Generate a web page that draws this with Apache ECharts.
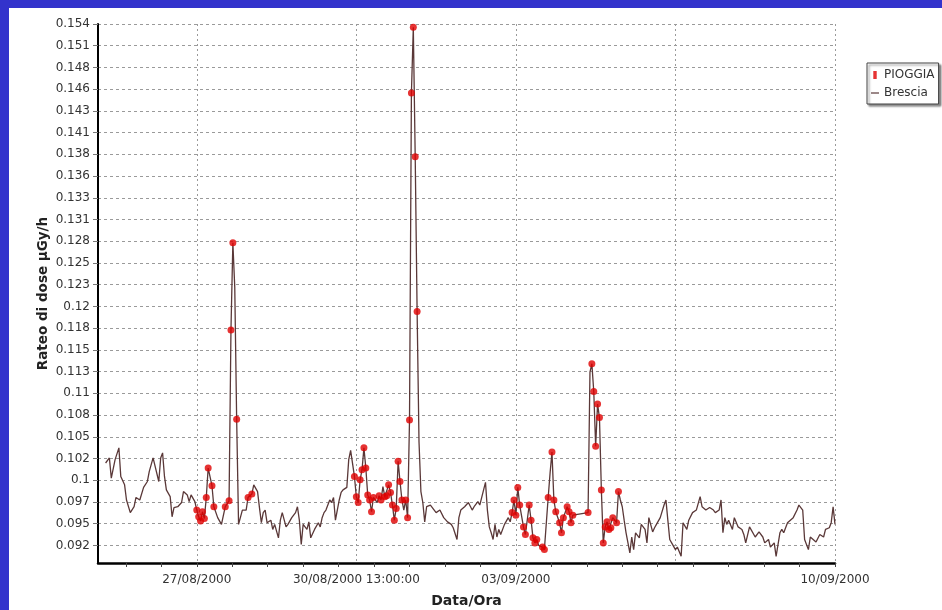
<!DOCTYPE html>
<html><head><meta charset="utf-8">
<script src="https://cdn.jsdelivr.net/npm/echarts@6/dist/echarts.min.js"></script>
<style>html,body{margin:0;padding:0;background:#fff;}#c{width:942px;height:610px;}</style>
</head><body><div id="c"></div>
<script>
// hours relative to 27/08/2000 00:00
const hours = [-48,-46,-45,-43,-41,-40,-38,-37,-35,-33,-32,-30,-28,-26,-25,-23,-22,-20,-19,-18,-17,-16,-14,-13,-12,-10,-8,-7,-5,-4,-3,-1,
0,1,2,3,4,5,6,8,9,11,13,15,17,18,19,20,21,22,24,26,27,29,30,32,33,34,35,36,37,39,40,41,43,44,45,47,48,50,52,53,54,55,56,58,59,60,62,64,65,66,67,68,70,71,72,73,75,76,77,79,80,81,83,84,
85,86,87,88,89,90,91,92,93,95,96,97,98,99,100,101,102,103,104,105,106,107,108,109,110,111,112,113,114,115,116,117,118,119,120,121,123,125,126,128,130,132,134,135,137,138,139,141,143,145,146,148,149,151,152,153,154,155,156,157,158,159,160,162,164,165,166,167,
168,169,170,172,173,175,176,177,178,179,180,182,183,185,186,187,188,189,191,192,193,195,196,197,198,206,207,208,209,210,211,212,213,214,215,216,217,218,219,221,222,223,224,225,226,228,229,230,231,233,234,236,237,238,240,241,242,244,246,247,248,249,250,252,253,255,256,258,259,261,263,265,266,268,
270,272,273,275,276,277,278,279,280,282,283,285,287,288,289,291,292,294,296,298,299,301,302,304,305,307,308,309,311,312,314,316,317,319,320,322,323,324,326,328,330,331,333,334,335,336];
const dose = [0.1018,0.1024,0.1000,0.1022,0.1036,0.1002,0.0992,0.0974,0.0959,0.0966,0.0977,0.0974,0.0989,0.0996,0.1008,0.1024,0.1022,0.0996,0.1024,0.1030,0.1002,0.0986,0.0978,0.0954,0.0965,0.0966,0.0971,0.0984,0.0980,0.0972,0.0980,0.0972,
0.0962,0.0954,0.0949,0.0960,0.0952,0.0977,0.1012,0.0991,0.0966,0.0953,0.0945,0.0966,0.0973,0.1176,0.1280,0.1227,0.1070,0.0945,0.0962,0.0962,0.0977,0.0981,0.0992,0.0984,0.0965,0.0947,0.0959,0.0962,0.0947,0.0950,0.0939,0.0945,0.0929,0.0950,0.0959,0.0942,0.0945,0.0953,0.0959,0.0966,0.0950,0.0921,0.0945,0.0939,0.0948,0.0929,0.0939,0.0947,0.0942,0.0953,0.0959,0.0962,0.0974,0.0971,0.0977,0.0950,0.0974,0.0983,0.0986,0.0989,0.1022,0.1033,0.1002,0.0978,
0.0971,0.0998,0.1010,0.1036,0.1012,0.0980,0.0974,0.0960,0.0977,0.0971,0.0979,0.0974,0.0990,0.0978,0.0979,0.0992,0.0983,0.0968,0.0950,0.0964,0.1020,0.0996,0.0974,0.0962,0.0974,0.0953,0.1069,0.1458,0.1536,0.1382,0.1198,0.1043,0.0984,0.0971,0.0948,0.0966,0.0968,0.0962,0.0959,0.0962,0.0953,0.0948,0.0945,0.0941,0.0927,0.0953,0.0962,0.0966,0.0971,0.0962,0.0966,0.0972,0.0968,0.0986,0.0995,0.0962,0.0942,0.0935,0.0927,0.0945,0.0930,0.0939,0.0933,0.0945,0.0953,0.0948,0.0959,0.0974,
0.0956,0.0989,0.0968,0.0942,0.0933,0.0968,0.0950,0.0929,0.0923,0.0927,0.0920,0.0918,0.0915,0.0977,0.1006,0.1031,0.0974,0.0960,0.0947,0.0935,0.0953,0.0966,0.0960,0.0947,0.0956,0.0959,0.1126,0.1136,0.1103,0.1038,0.1088,0.1072,0.0986,0.0923,0.0942,0.0948,0.0939,0.0941,0.0953,0.0947,0.0984,0.0974,0.0966,0.0950,0.0935,0.0911,0.0930,0.0915,0.0935,0.0929,0.0945,0.0939,0.0923,0.0953,0.0936,0.0941,0.0945,0.0953,0.0968,0.0974,0.0950,0.0927,0.0923,0.0915,0.0918,0.0907,0.0947,0.0939,0.0950,0.0959,0.0962,0.0978,0.0966,0.0962,
0.0965,0.0962,0.0959,0.0962,0.0974,0.0935,0.0953,0.0945,0.0950,0.0939,0.0953,0.0942,0.0939,0.0933,0.0923,0.0942,0.0941,0.0930,0.0936,0.0930,0.0923,0.0927,0.0918,0.0923,0.0907,0.0935,0.0939,0.0935,0.0947,0.0948,0.0953,0.0962,0.0968,0.0962,0.0927,0.0915,0.0930,0.0929,0.0924,0.0933,0.0930,0.0939,0.0941,0.0947,0.0966,0.0945];
// 1 = PIOGGIA (rain) marker on that reading
const rain = [0,0,0,0,0,0,0,0,0,0,0,0,0,0,0,0,0,0,0,0,0,0,0,0,0,0,0,0,0,0,0,0,
1,1,1,1,1,1,1,1,1,0,0,1,1,1,1,0,1,0,0,0,1,1,0,0,0,0,0,0,0,0,0,0,0,0,0,0,0,0,0,0,0,0,0,0,0,0,0,0,0,0,0,0,0,0,0,0,0,0,0,0,0,0,
1,1,1,1,1,1,1,1,1,1,1,0,1,1,0,1,1,1,1,1,1,1,1,1,1,0,1,1,1,1,1,1,1,0,0,0,0,0,0,0,0,0,0,0,0,0,0,0,0,0,0,0,0,0,0,0,0,0,0,0,0,0,0,0,0,0,0,0,
1,1,1,1,1,1,1,1,1,1,1,1,0,1,1,1,0,1,1,1,1,1,1,1,1,1,1,1,0,1,1,1,1,1,1,1,1,1,1,1,1,1,1,0,0,0,0,0,0,0,0,0,0,0,0,0,0,0,0,0,0,0,0,0,0,0,0,0,0,0,0,0,0,0,0,0,0,0,
0,0,0,0,0,0,0,0,0,0,0,0,0,0,0,0,0,0,0,0,0,0,0,0,0,0,0,0,0,0,0,0,0,0,0,0,0,0,0,0,0,0,0,0,0,1];
const yTickLabels = ['0.092','0.095','0.097','0.1','0.102','0.105','0.108','0.11','0.113','0.115','0.118','0.12','0.123','0.125','0.128','0.131','0.133','0.136','0.138','0.141','0.143','0.146','0.148','0.151','0.154'];
const xTickHours = [0,84,168,252,336];
const xTickLabels = ['27/08/2000','30/08/2000 13:00:00','03/09/2000','','10/09/2000'];
const xMinorStep = 336 / 18;   // small ticks along the time axis

const Y0 = 0.092, YSTEP = (0.154 - 0.092) / 24;
const toK = v => (v - Y0) / YSTEP;
const lineData = hours.map((h, i) => [h, toK(dose[i])]);
const rainData = hours.map((h, i) => rain[i] ? [h, toK(dose[i])] : null).filter(Boolean);
const yTickPos = yTickLabels.map((_, k) => k);
const xMinorTicks = [];
for (let t = -2; t <= 18; t++) xMinorTicks.push(t * xMinorStep);

const chart = echarts.init(document.getElementById('c'), null, {renderer: 'canvas'});
chart.setOption({
  animation: false,
  backgroundColor: '#ffffff',
  textStyle: {fontFamily: 'DejaVu Sans'},
  graphic: [
    {type: 'rect', silent: true, shape: {x: 0, y: 0, width: 942, height: 8}, style: {fill: '#3333cc'}},
    {type: 'rect', silent: true, shape: {x: 0, y: 0, width: 9, height: 610}, style: {fill: '#3333cc'}}
  ],
  grid: {left: 98, right: 107, top: 24, bottom: 47, containLabel: false, outerBoundsMode: 'none'},
  legend: {
    orient: 'vertical', left: 867, top: 63,
    data: [
      {name: 'PIOGGIA', icon: 'path://M0,0L3,0L3,7L0,7Z'},
      {name: 'Brescia', icon: 'path://M0,0L8,0L8,1.2L0,1.2Z'}
    ],
    itemWidth: 8, itemHeight: 8, itemGap: 6, padding: [6, 4, 5, 4],
    backgroundColor: '#fff', borderColor: '#444', borderWidth: 1,
    shadowColor: 'rgba(0,0,0,0.45)', shadowBlur: 2, shadowOffsetX: 2, shadowOffsetY: 2,
    textStyle: {fontSize: 12, color: '#333', fontFamily: 'DejaVu Sans'}
  },
  xAxis: [
    {
      type: 'value', min: -52, max: 336,
      name: 'Data/Ora', nameLocation: 'middle', nameGap: 31, nameMoveOverlap: false,
      nameTextStyle: {fontWeight: 'bold', fontSize: 14, color: '#222'},
      axisLine: {onZero: false, lineStyle: {color: '#000', width: 2.5}},
      axisTick: {show: false, customValues: xTickHours},
      axisLabel: {
        customValues: xTickHours, hideOverlap: false,
        fontSize: 12, color: '#333', margin: 11,
        formatter: v => { const i = xTickHours.indexOf(v); return i >= 0 ? xTickLabels[i] : ''; }
      },
      splitLine: {show: true, lineStyle: {color: '#9a9a9a', type: [2, 3], width: 1}}
    },
    {
      type: 'value', min: -52, max: 336, position: 'bottom',
      axisLine: {show: false, onZero: false}, axisLabel: {show: false}, splitLine: {show: false},
      axisTick: {show: true, length: 4, customValues: xMinorTicks, lineStyle: {color: '#444'}}
    }
  ],
  yAxis: {
    type: 'value', min: -0.81, max: 24,
    name: 'Rateo di dose µGy/h', nameLocation: 'middle', nameGap: 48, nameMoveOverlap: false,
    nameTextStyle: {fontWeight: 'bold', fontSize: 13.5, color: '#222'},
    axisLine: {show: true, onZero: false, lineStyle: {color: '#000', width: 2}},
    axisTick: {show: true, length: 5, customValues: yTickPos, lineStyle: {color: '#777'}},
    axisLabel: {
      customValues: yTickPos,
      fontSize: 12, color: '#333', margin: 8,
      formatter: v => { const k = Math.round(v); return (k >= 0 && k < yTickLabels.length) ? yTickLabels[k] : ''; }
    },
    splitLine: {show: true, lineStyle: {color: '#9a9a9a', type: [3, 3], width: 1}}
  },
  series: [
    {
      name: 'PIOGGIA', type: 'scatter', data: rainData, symbol: 'circle', symbolSize: 7,
      itemStyle: {color: '#e00000'}, z: 4
    },
    {
      name: 'Brescia', type: 'line', data: lineData, symbol: 'none', showSymbol: false,
      lineStyle: {color: '#5a3838', width: 1.3}, itemStyle: {color: '#5a3838'}, z: 3
    }
  ]
});
</script>
</body></html>
